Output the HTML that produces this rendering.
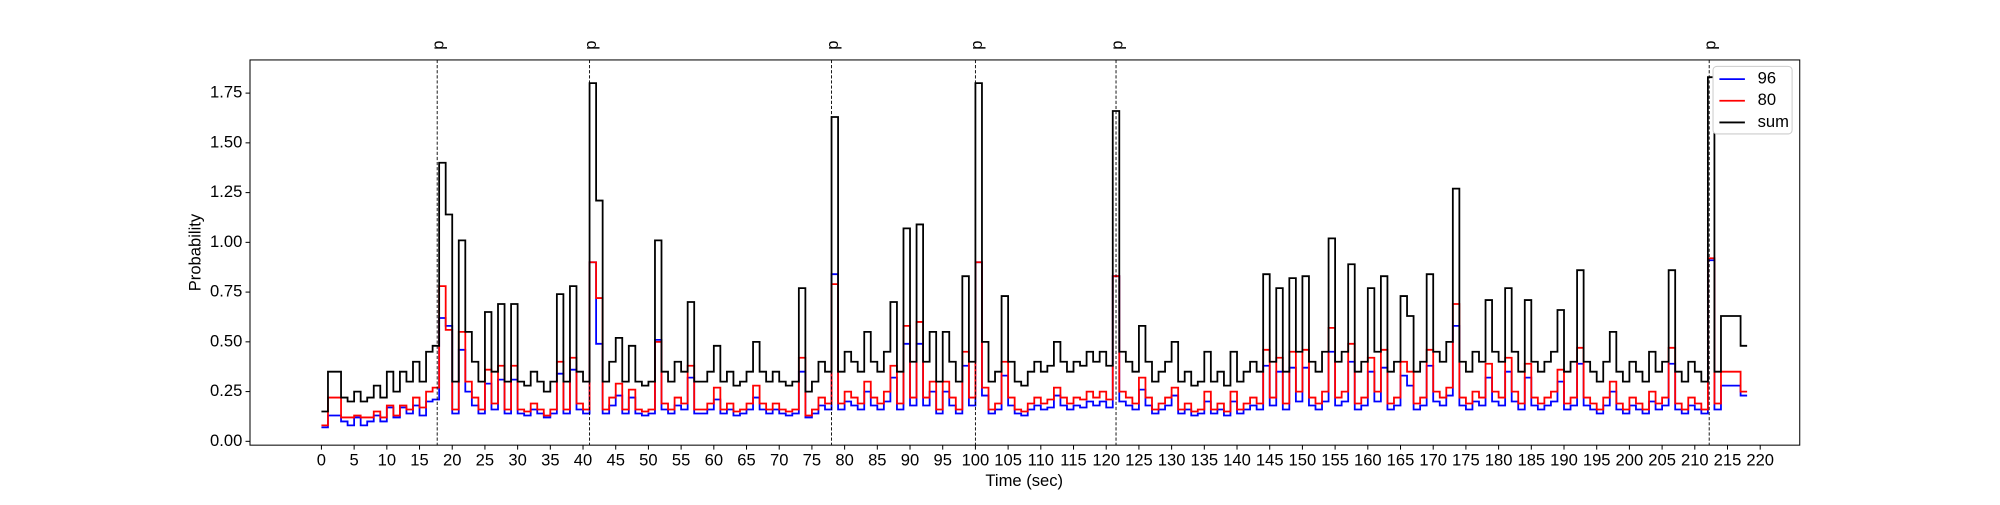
<!DOCTYPE html>
<html><head><meta charset="utf-8"><style>
body{margin:0;background:#fff;overflow:hidden;}
svg text{font-family:"Liberation Sans",sans-serif;font-size:13px;fill:#000;}
</style></head><body>
<svg id="chart" width="2000" height="500" viewBox="0 0 1568 392" xmlns="http://www.w3.org/2000/svg">
<rect x="0" y="0" width="1568" height="392" fill="#fff"/>
<g id="marks"></g>
<g id="axes"></g>
</svg>
<script>
const sumSeries=[.15,.35,.35,.22,.20,.25,.20,.22,.28,.22,
.35,.25,.35,.30,.40,.30,.45,.48,1.40,1.14,
.30,1.01,.55,.40,.30,.65,.35,.69,.30,.69,
.30,.28,.35,.30,.25,.30,.74,.30,.78,.35,
.30,1.80,1.21,.30,.40,.52,.30,.48,.30,.28,
.30,1.01,.35,.30,.40,.35,.70,.30,.30,.35,
.48,.30,.35,.28,.30,.35,.50,.35,.30,.35,
.30,.28,.30,.77,.25,.30,.40,.35,1.63,.35,
.45,.40,.35,.55,.40,.35,.45,.70,.35,1.07,
.40,1.09,.40,.55,.30,.55,.40,.30,.83,.40,
1.80,.50,.30,.35,.73,.40,.30,.28,.35,.40,
.35,.38,.50,.40,.35,.40,.38,.45,.40,.45,
.38,1.66,.45,.40,.35,.58,.40,.30,.35,.40,
.50,.30,.35,.28,.30,.45,.30,.35,.28,.45,
.30,.35,.40,.35,.84,.40,.77,.35,.82,.45,
.83,.40,.35,.45,1.02,.40,.45,.89,.35,.40,
.77,.45,.83,.35,.40,.73,.63,.35,.40,.84,
.45,.40,.50,1.27,.40,.35,.45,.40,.71,.45,
.40,.77,.45,.35,.71,.40,.35,.40,.45,.66,
.35,.40,.86,.40,.35,.30,.40,.55,.35,.30,
.40,.35,.30,.45,.35,.40,.86,.35,.30,.40,
.35,.30,1.83,.35,.63,.63,.63,.48];
const series80=[.08,.22,.22,.12,.12,.13,.12,.12,.15,.12,
.18,.13,.18,.16,.22,.17,.25,.27,.78,.56,
.16,.55,.30,.22,.16,.36,.19,.38,.16,.38,
.16,.15,.19,.16,.13,.16,.40,.16,.42,.19,
.16,.90,.72,.16,.22,.29,.16,.26,.16,.15,
.16,.50,.19,.16,.22,.19,.38,.16,.16,.19,
.27,.16,.19,.15,.16,.19,.28,.19,.16,.19,
.16,.15,.16,.42,.13,.16,.22,.19,.79,.19,
.25,.22,.19,.30,.22,.19,.25,.38,.19,.58,
.22,.60,.22,.30,.16,.30,.22,.16,.45,.22,
.90,.27,.16,.19,.40,.22,.16,.15,.19,.22,
.19,.21,.27,.22,.19,.22,.21,.25,.22,.25,
.21,.83,.25,.22,.19,.32,.22,.16,.19,.22,
.27,.16,.19,.15,.16,.25,.16,.19,.15,.25,
.16,.19,.22,.19,.46,.22,.42,.19,.45,.25,
.46,.22,.19,.25,.57,.22,.25,.49,.19,.22,
.42,.25,.46,.19,.22,.40,.35,.19,.22,.46,
.25,.22,.27,.69,.22,.19,.25,.22,.39,.25,
.22,.42,.25,.19,.39,.22,.19,.22,.25,.36,
.19,.22,.47,.22,.19,.16,.22,.30,.19,.16,
.22,.19,.16,.25,.19,.22,.47,.19,.16,.22,
.19,.16,.92,.19,.35,.35,.35,.25];
const series96=[.07,.13,.13,.10,.08,.12,.08,.10,.13,.10,
.17,.12,.17,.14,.18,.13,.20,.21,.62,.58,
.14,.46,.25,.18,.14,.29,.16,.31,.14,.31,
.14,.13,.16,.14,.12,.14,.34,.14,.36,.16,
.14,.90,.49,.14,.18,.23,.14,.22,.14,.13,
.14,.51,.16,.14,.18,.16,.32,.14,.14,.16,
.21,.14,.16,.13,.14,.16,.22,.16,.14,.16,
.14,.13,.14,.35,.12,.14,.18,.16,.84,.16,
.20,.18,.16,.25,.18,.16,.20,.32,.16,.49,
.18,.49,.18,.25,.14,.25,.18,.14,.38,.18,
.90,.23,.14,.16,.33,.18,.14,.13,.16,.18,
.16,.17,.23,.18,.16,.18,.17,.20,.18,.20,
.17,.83,.20,.18,.16,.26,.18,.14,.16,.18,
.23,.14,.16,.13,.14,.20,.14,.16,.13,.20,
.14,.16,.18,.16,.38,.18,.35,.16,.37,.20,
.37,.18,.16,.20,.45,.18,.20,.40,.16,.18,
.35,.20,.37,.16,.18,.33,.28,.16,.18,.38,
.20,.18,.23,.58,.18,.16,.20,.18,.32,.20,
.18,.35,.20,.16,.32,.18,.16,.18,.20,.30,
.16,.18,.39,.18,.16,.14,.18,.25,.16,.14,
.18,.16,.14,.20,.16,.18,.39,.16,.14,.18,
.16,.14,.91,.16,.28,.28,.28,.23];
const eventTimes=[17.7,41,78,100,121.5,212.2];
const eventLabels=["p","p","p","p","p","p"];
const xTicks=[0,5,10,15,20,25,30,35,40,45,50,55,60,65,70,75,80,85,90,95,100,105,110,115,120,125,130,135,140,145,150,155,160,165,170,175,180,185,190,195,200,205,210,215,220];
const yTicks=[0,0.25,0.5,0.75,1.0,1.25,1.5,1.75];
const yTickLabels=["0.00","0.25","0.50","0.75","1.00","1.25","1.50","1.75"];

const NS="http://www.w3.org/2000/svg";
const L=196,R=1411,T=47,B=349;
const x=t=>252+t*(1128/220);
const y=v=>346-v*156;
const marks=document.getElementById('marks'),axes=document.getElementById('axes');
function mk(tag,attrs,parent){const e=document.createElementNS(NS,tag);for(const k in attrs)e.setAttribute(k,attrs[k]);parent.appendChild(e);return e;}

function stepPath(arr){let d='';arr.forEach((v,i)=>{d+=(i?'L':'M')+x(i)+','+y(v)+'L'+x(i+1)+','+y(v);});return d;}
[[series96,'#0000ff','series-96-line'],[series80,'#ff0000','series-80-line'],[sumSeries,'#000000','sum-line']].forEach(s=>{
 const p=mk('path',{d:stepPath(s[0]),fill:'none',stroke:s[1],'stroke-width':1.4,'stroke-linejoin':'miter'},marks);
 
 
});
eventTimes.forEach((t,i)=>{
 const l=mk('line',{x1:x(t),x2:x(t),y1:T,y2:B,stroke:'#000','stroke-width':0.7,'stroke-dasharray':'2.5,1.5'},marks);
 
 
 const tx=mk('text',{x:x(t)+5,y:T-8,transform:`rotate(-90 ${x(t)+5} ${T-8})`,'text-anchor':'start','font-size':'10'},marks);
 tx.textContent=eventLabels[i];
 
 
});
const frame=mk('rect',{x:L,y:T,width:R-L,height:B-T,fill:'none',stroke:'#000','stroke-width':0.8},axes);


xTicks.forEach(t=>{
 mk('line',{x1:x(t),x2:x(t),y1:B,y2:B+3.5,stroke:'#000','stroke-width':0.8},axes);
 const tx=mk('text',{x:x(t),y:B+16,'text-anchor':'middle','font-size':'10'},axes);
 tx.textContent=t;
 
 
});
yTicks.forEach((v,i)=>{
 mk('line',{x1:L-3.5,x2:L,y1:y(v),y2:y(v),stroke:'#000','stroke-width':0.8},axes);
 const tx=mk('text',{x:L-6,y:y(v)+3.5,'text-anchor':'end','font-size':'10'},axes);
 tx.textContent=yTickLabels[i];
 
 
});
const xt=mk('text',{x:803,y:381,'text-anchor':'middle','font-size':'10.5'},axes);xt.textContent='Time (sec)';


const yt=mk('text',{x:157,y:198,'text-anchor':'middle','font-size':'10.5',transform:'rotate(-90 157 198)'},axes);yt.textContent='Probability';


const lg=mk('g',{},axes);


mk('rect',{x:1343,y:52,width:62,height:53,rx:3,fill:'#fff',stroke:'#ccc','stroke-width':0.8},lg);
[['96','#0000ff'],['80','#ff0000'],['sum','#000']].forEach((e,i)=>{
 const g=mk('g',{},lg);
 
 
 mk('line',{x1:1348,x2:1368,y1:62+i*17,y2:62+i*17,stroke:e[1],'stroke-width':1.4},g);
 const t=mk('text',{x:1378,y:65.5+i*17,'font-size':'10'},g);t.textContent=e[0];
});
</script>
</body></html>
